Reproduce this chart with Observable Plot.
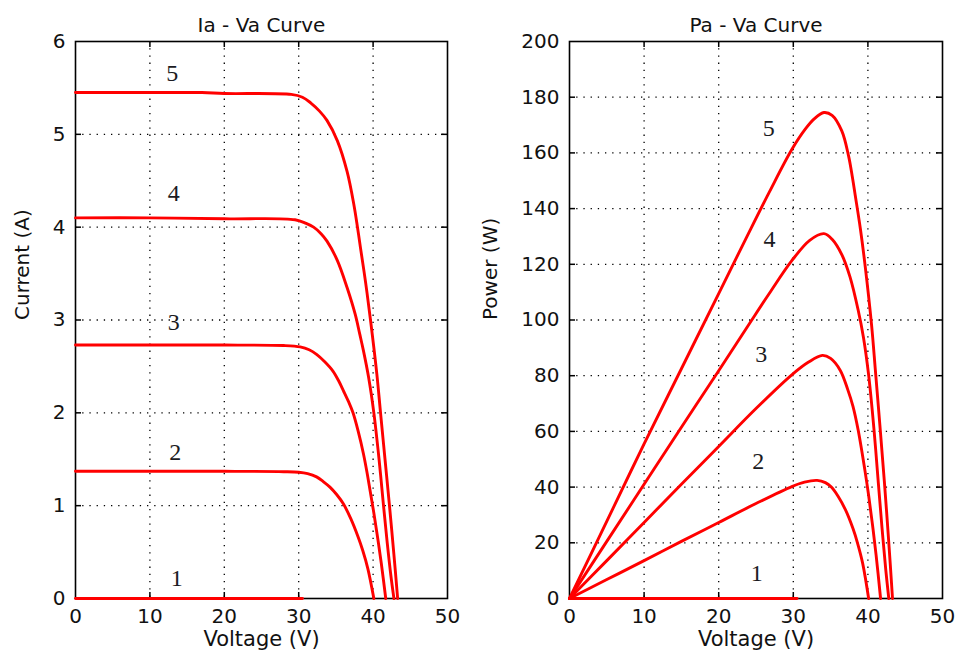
<!DOCTYPE html>
<html><head><meta charset="utf-8">
<script src="https://cdn.jsdelivr.net/npm/d3@7"></script>
<script src="https://cdn.jsdelivr.net/npm/@observablehq/plot@0.6"></script>
<style>
html,body{margin:0;padding:0;background:#fff;}
#wrap{position:relative;width:955px;height:661px;overflow:hidden;background:#fff;}
#wrap svg{position:absolute;top:0;}
</style></head><body><div id="wrap"></div>
<script>
// ---- data ----
const xTicks = [0, 10, 20, 30, 40, 50];
const currentTicks = [0, 1, 2, 3, 4, 5, 6];
const powerTicks = [0, 20, 40, 60, 80, 100, 120, 140, 160, 180, 200];
const curveNames = ["1", "2", "3", "4", "5"];

// I-V curves: [voltage V, current A]
const iv1 = [[0,0],[30.5,0]];
const iv2 = [[0,1.37],[10,1.37],[20,1.37],[28,1.366],[30,1.36],[31.2,1.345],[32.4,1.31],[33.3,1.26],[34.2,1.2],[35.1,1.12],[36.0,1.02],[37,0.86],[38,0.66],[38.6,0.52],[39.3,0.32],[40.1,0]];
const iv3 = [[0,2.73],[10,2.73],[20,2.73],[28,2.725],[30.2,2.71],[31.4,2.68],[32.4,2.63],[33.5,2.55],[34.6,2.45],[35.4,2.34],[36.0,2.24],[36.7,2.12],[37.3,2.0],[38.0,1.8],[38.7,1.56],[39.2,1.35],[39.6,1.16],[40.1,0.92],[40.6,0.66],[41.1,0.38],[41.7,0]];
const iv4 = [[0,4.1],[10,4.1],[20,4.09],[29.5,4.08],[31,4.04],[32,4.0],[33,3.93],[33.8,3.85],[35.2,3.64],[36.5,3.35],[37.6,3.06],[38.2,2.85],[38.7,2.67],[39.4,2.38],[40.1,2.0],[40.8,1.5],[41.4,1.0],[41.9,0.6],[42.4,0.24],[42.8,0]];
const iv5 = [[0,5.45],[10,5.45],[17,5.45],[20,5.44],[29,5.43],[30.5,5.4],[31.6,5.34],[32.8,5.25],[33.8,5.15],[35.2,4.93],[36.5,4.6],[37.4,4.25],[37.9,4.0],[38.3,3.78],[39.0,3.4],[39.65,3.0],[40.5,2.42],[41.0,2.0],[41.6,1.5],[42.2,1.0],[42.8,0.47],[43.3,0]];

// P-V curves: [voltage V, power W]
const pv1 = [[0,0],[30.5,0]];
const pv2 = [[0,0],[5,6.8],[10,13.6],[15,20.5],[20,27.3],[25,34.1],[29.8,40.2],[31.5,41.8],[33.2,42.4],[34.3,41.6],[35.1,40.0],[36,36.7],[37,31.8],[38,25.1],[38.6,20],[39.3,12.6],[40.1,0]];
const pv3 = [[0,0],[5,13.6],[10,27.3],[15,41],[20,54.6],[25,68.2],[29.8,80.3],[32,84.8],[33.9,87.3],[35,86.2],[36.3,81.9],[37.3,75],[38.0,69],[38.7,60.4],[39.6,46],[40.1,37],[40.6,26.8],[41.1,15.6],[41.7,0]];
const pv4 = [[0,0],[5,20.5],[10,41],[15,61.5],[20,81.8],[24,98.2],[26.8,109.6],[29.8,121.3],[32.2,128.6],[34.1,131],[35.2,129.0],[36.5,123.5],[37.6,115.5],[38.7,103.5],[39.4,93.8],[40.1,80.2],[40.8,61.2],[41.4,41.4],[41.9,25.1],[42.4,10.2],[42.8,0]];
const pv5 = [[0,0],[5.8,32.2],[10,55.5],[15,82.5],[20,109.5],[23.7,129.5],[26.8,146],[29.8,161.2],[31.6,168.5],[32.8,172.2],[34.1,174.5],[35.2,173.5],[36.5,167.9],[37.4,159],[37.9,151.6],[38.3,144.8],[39.0,132.6],[39.65,119],[40.5,98],[41.0,82],[41.6,62.4],[42.2,42.2],[42.8,20.1],[43.3,0]];

// curve number labels
const ivLabelV = [13.6, 13.4, 13.2, 13.2, 13.0];
const ivLabelI = [0.22, 1.58, 2.98, 4.36, 5.66];
const pvLabelV = [25.1, 25.3, 25.7, 26.8, 26.7];
const pvLabelP = [9.0, 49.2, 87.6, 128.9, 169.0];

// ---- drawing ----
const H = 661, MT = 41, MB = 63;
function panel({title, ylabel, ylabelDx, ymax, yticks, series, labV, labY, width, ml, mr}) {
  const plotW = width - ml - mr, plotH = H - MT - MB;
  const rows = series.flatMap((s, k) => s.map(([x, y]) => ({x, y, k})));
  const inner = (t, lo, hi) => t.filter(v => v > lo && v < hi);
  const yIn = inner(yticks, 0, ymax), xIn = inner(xTicks, 0, 50);
  const dots = {stroke: "#000", strokeOpacity: 1, strokeWidth: 1.3, strokeDasharray: "1.3,5.9"};
  const tk = {stroke: "#000", strokeWidth: 1.5};
  return Plot.plot({
    width, height: H, marginLeft: ml, marginRight: mr, marginTop: MT, marginBottom: MB,
    style: {fontFamily: "DejaVu Sans", fontSize: "20px", background: "white", color: "#111", overflow: "visible"},
    x: {domain: [0, 50], label: null},
    y: {domain: [0, ymax], label: null},
    marks: [
      Plot.ruleX(xIn, {x: d => d, ...dots}),
      Plot.ruleY(yIn, {y: d => d, ...dots}),
      Plot.frame({stroke: "#000", strokeWidth: 1.6}),
      Plot.tickY(yIn, {y: d => d, insetRight: plotW - 6, ...tk}),
      Plot.tickY(yIn, {y: d => d, insetLeft: plotW - 6, ...tk}),
      Plot.tickX(xIn, {x: d => d, insetBottom: plotH - 6, ...tk}),
      Plot.tickX(xIn, {x: d => d, insetTop: plotH - 6, ...tk}),
      Plot.line(rows, {x: "x", y: "y", z: "k", stroke: "#ff0000", strokeWidth: 2.9, curve: "catmull-rom"}),
      Plot.axisX(xTicks, {tickSize: 0, tickPadding: 10, label: null, fontSize: 20, tickFormat: d => String(d)}),
      Plot.axisY(yticks, {tickSize: 0, tickPadding: 10, label: null, fontSize: 20, tickFormat: d => String(d)}),
      Plot.text([title], {frameAnchor: "top", dy: -24, text: d => d, fontSize: 20}),
      Plot.text([ylabel], {frameAnchor: "left", dx: ylabelDx, rotate: -90, text: d => d, fontSize: 20}),
      Plot.text(["Voltage (V)"], {frameAnchor: "bottom", dy: 47, text: d => d, fontSize: 21}),
      Plot.text(curveNames, {x: (d, i) => labV[i], y: (d, i) => labY[i], text: d => d,
        fontFamily: "Liberation Serif", fontSize: 24, fill: "#1b1b22"})
    ]
  });
}

const wrap = document.getElementById("wrap");
const left = panel({title: "Ia - Va Curve", ylabel: "Current (A)", ylabelDx: -53, ymax: 6, yticks: currentTicks,
  series: [iv1, iv2, iv3, iv4, iv5], labV: ivLabelV, labY: ivLabelI, width: 480, ml: 75, mr: 33});
left.style.left = "0px";
const right = panel({title: "Pa - Va Curve", ylabel: "Power (W)", ylabelDx: -79, ymax: 200, yticks: powerTicks,
  series: [pv1, pv2, pv3, pv4, pv5], labV: pvLabelV, labY: pvLabelP, width: 475, ml: 89, mr: 13});
right.style.left = "480px";
wrap.appendChild(left);
wrap.appendChild(right);
</script></body></html>
